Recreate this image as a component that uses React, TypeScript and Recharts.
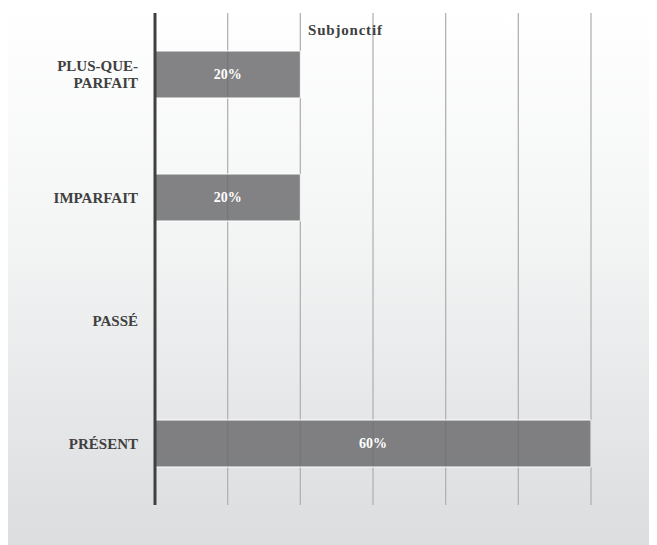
import React from "react";
import { BarChart, Bar, XAxis, YAxis, CartesianGrid, LabelList } from "recharts";

const categories = ["PLUS-QUE-PARFAIT", "IMPARFAIT", "PASSÉ", "PRÉSENT"];
const values = [0.2, 0.2, 0, 0.6];
const xTicks = [0, 0.1, 0.2, 0.3, 0.4, 0.5, 0.6];
const title = "Subjonctif";

const data = categories.map((name, i) => ({ name, value: values[i] }));

const FONT = "Liberation Serif";

const CategoryTick = (props: any) => {
  const { x, y, payload } = props;
  const label: string = payload.value;
  const lines = label === "PLUS-QUE-PARFAIT" ? ["PLUS-QUE-", "PARFAIT"] : [label];
  const lh = 17;
  const startDy = -((lines.length - 1) * lh) / 2;
  return (
    <text
      x={x}
      y={y}
      textAnchor="end"
      fill="#404040"
      fontFamily={FONT}
      fontWeight="bold"
      fontSize={15}
      dominantBaseline="central"
    >
      {lines.map((l, i) => (
        <tspan key={i} x={x} dy={i === 0 ? startDy : lh}>
          {l}
        </tspan>
      ))}
    </text>
  );
};

const EmptyTick = () => <g />;

const fmt = (v: any) => (Number(v) === 0 ? "0" : `${Math.round(Number(v) * 100)}%`);

const ValueLabel = (props: any) => {
  const { x, y, width, height, value } = props;
  return (
    <text
      x={Number(x) + Number(width) / 2}
      y={Number(y) + Number(height) / 2}
      textAnchor="middle"
      dominantBaseline="central"
      fill="#ffffff"
      fontFamily={FONT}
      fontWeight="bold"
      fontSize={14}
    >
      {fmt(value)}
    </text>
  );
};

export default function App() {
  return (
    <div
      style={{
        position: "relative",
        width: 649,
        height: 537,
        background: "linear-gradient(to bottom, #ffffff 0%, #f4f5f5 40%, #dcdddf 100%)",
      }}
    >
      <BarChart
        width={649}
        height={537}
        data={data}
        layout="vertical"
        margin={{ top: 5, right: 66, bottom: 0, left: 0 }}
        style={{ position: "absolute", left: 0, top: 0 }}
      >
        <CartesianGrid horizontal={false} vertical={true} stroke="#b2b2b2" strokeWidth={1.3} />
        <XAxis
          type="number"
          domain={[0, 0.6]}
          ticks={xTicks}
          interval={0}
          tick={<EmptyTick />}
          tickLine={false}
          axisLine={false}
          height={40}
        />
        <YAxis
          type="category"
          dataKey="name"
          width={147}
          tickLine={false}
          tickSize={0}
          tickMargin={17}
          axisLine={{ stroke: "#404040", strokeWidth: 3 }}
          tick={<CategoryTick />}
        />
        <Bar
          dataKey="value"
          barSize={47}
          fill="#6a6a6c"
          fillOpacity={0.83}
          stroke="#ffffff"
          strokeWidth={1}
          isAnimationActive={false}
        >
          <LabelList dataKey="value" content={<ValueLabel />} />
        </Bar>
      </BarChart>
      <div
        style={{
          position: "absolute",
          left: 300,
          top: 13,
          fontFamily: FONT,
          fontWeight: "bold",
          fontSize: 15,
          letterSpacing: 0.8,
          color: "#404040",
          lineHeight: "18px",
          pointerEvents: "none",
        }}
      >
        {title}
      </div>
    </div>
  );
}
